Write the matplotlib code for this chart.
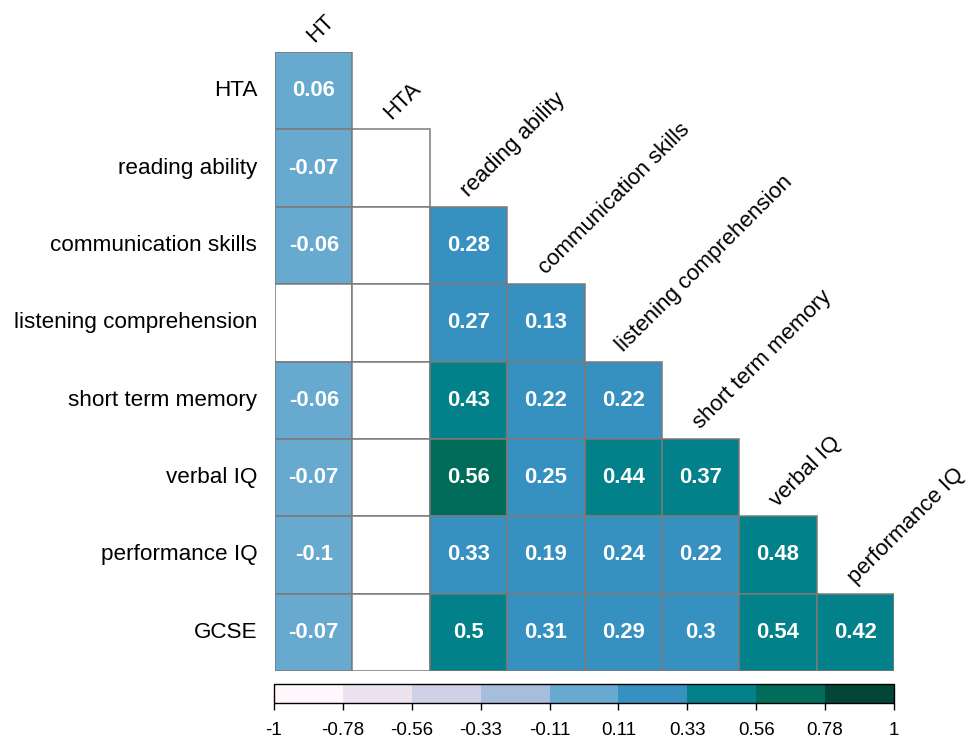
import numpy as np
import matplotlib
matplotlib.use('Agg')
import matplotlib.pyplot as plt
from matplotlib.colors import ListedColormap, BoundaryNorm
from matplotlib.patches import Rectangle
from matplotlib.cm import ScalarMappable

plt.rcParams['font.family'] = ['Liberation Sans', 'DejaVu Sans']

row_labels = ['HTA', 'reading ability', 'communication skills',
              'listening comprehension', 'short term memory', 'verbal IQ',
              'performance IQ', 'GCSE']
col_labels = ['HT', 'HTA', 'reading ability', 'communication skills',
              'listening comprehension', 'short term memory', 'verbal IQ',
              'performance IQ']

# lower triangle, None = not significant (blank cell)
ht = [0.06, -0.07, -0.06, None, -0.06, -0.07, -0.1, -0.07]
hta = [None, None, None, None, None, None, None]
reading = [0.28, 0.27, 0.43, 0.56, 0.33, 0.5]
communication = [0.13, 0.22, 0.25, 0.19, 0.31]
listening = [0.22, 0.44, 0.24, 0.29]
memory = [0.37, 0.22, 0.3]
verbal = [0.48, 0.54]
performance = [0.42]
columns = [ht, hta, reading, communication, listening, memory, verbal, performance]

palette = ['#fff7fb', '#ece2f0', '#d0d1e6', '#a6bddb', '#67a9cf',
           '#3690c0', '#02818a', '#016c59', '#014636']
tick_labels = ['-1', '-0.78', '-0.56', '-0.33', '-0.11', '0.11', '0.33',
               '0.56', '0.78', '1']

bounds = np.linspace(-1, 1, len(palette) + 1)
cmap = ListedColormap(palette)
norm = BoundaryNorm(bounds, cmap.N)

fig = plt.figure(figsize=(9.72, 7.40), dpi=100)
ax = fig.add_axes([275 / 972, 1 - 671 / 740, 619 / 972, 619 / 740])
n = len(row_labels)

for j, col in enumerate(columns):
    for k, v in enumerate(col):
        i = j + k
        face = 'white' if v is None else cmap(norm(v))
        ax.add_patch(Rectangle((j, i), 1, 1, facecolor=face,
                               edgecolor='#7a7a7a', linewidth=1.1))
        if v is not None:
            ax.text(j + 0.5, i + 0.5, f'{v:g}', ha='center', va='center',
                    color='white', fontsize=15.8, fontweight='bold')

ax.set_xlim(0, n)
ax.set_ylim(n, 0)
ax.axis('off')

for i, lab in enumerate(row_labels):
    ax.text(-0.23, i + 0.5, lab, ha='right', va='center', fontsize=16.2)

for j, lab in enumerate(col_labels):
    ax.text(j + 0.5, j - 0.12, lab, ha='left', va='baseline', rotation=45,
            rotation_mode='anchor', fontsize=16)

cax = fig.add_axes([274 / 972, 1 - 703 / 740, 620 / 972, 19 / 740])
cb = fig.colorbar(ScalarMappable(norm=norm, cmap=cmap), cax=cax,
                  orientation='horizontal', ticks=bounds)
cb.ax.set_xticklabels(tick_labels)
cb.ax.tick_params(labelsize=13.5, length=5, width=1, pad=9)
cb.outline.set_linewidth(1)

fig.savefig('out.png', dpi=100)
